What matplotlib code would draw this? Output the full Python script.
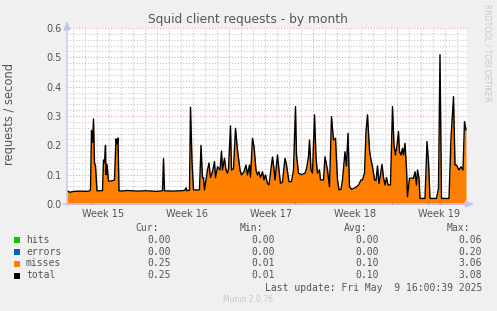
import matplotlib
matplotlib.use('Agg')
import matplotlib.pyplot as plt
from matplotlib.patches import Rectangle

# ---------------- data (hours since graph start, requests/second) ----------------
hours = [0, 6, 14, 26, 38, 46, 47, 49, 51, 53, 55, 57, 60, 71, 73, 75, 77, 78, 80, 83,
         86, 92, 95, 98, 100, 102, 104, 110, 120, 140, 160, 180, 191, 193, 195, 210,
         230, 236, 238, 240, 245, 247, 250, 253, 265, 268, 271, 273, 275, 281, 284,
         287, 291, 295, 297, 301, 306, 309, 311, 315, 318, 321, 323, 327, 329, 333,
         337, 341, 346, 349, 354, 358, 361, 365, 367, 371, 374, 378, 381, 384, 387,
         391, 394, 397, 401, 404, 407, 411, 414, 416, 421, 424, 427, 431, 436, 439,
         444, 449, 453, 457, 459, 463, 469, 476, 479, 483, 485, 488, 491, 495, 498,
         501, 505, 507, 513, 516, 521, 525, 529, 533, 537, 541, 544, 548, 551, 556,
         559, 562, 565, 569, 576, 583, 588, 591, 595, 598, 601, 605, 608, 611, 615,
         618, 621, 624, 627, 630, 633, 636, 639, 642, 647, 651, 654, 657, 660, 663,
         665, 668, 671, 673, 676, 679, 681, 685, 689, 693, 696, 699, 701, 704, 706,
         716, 720, 723, 726, 739, 743, 746, 749, 764, 768, 773, 776, 779, 784, 788,
         792, 795, 798]
total = [0.045, 0.040, 0.043, 0.044, 0.043, 0.045, 0.05, 0.25, 0.21, 0.29, 0.14, 0.13,
         0.045, 0.045, 0.15, 0.14, 0.2, 0.10, 0.135, 0.078, 0.078, 0.08, 0.082, 0.222,
         0.205, 0.225, 0.045, 0.044, 0.046, 0.044, 0.045, 0.043, 0.045, 0.155, 0.045,
         0.044, 0.045, 0.047, 0.055, 0.045, 0.047, 0.33, 0.145, 0.048, 0.048, 0.2,
         0.089, 0.09, 0.048, 0.116, 0.14, 0.09, 0.11, 0.145, 0.09, 0.127, 0.116, 0.18,
         0.116, 0.156, 0.116, 0.105, 0.12, 0.266, 0.116, 0.12, 0.258, 0.184, 0.116,
         0.099, 0.11, 0.133, 0.099, 0.133, 0.091, 0.224, 0.196, 0.116, 0.099, 0.11,
         0.09, 0.11, 0.082, 0.099, 0.07, 0.065, 0.105, 0.16, 0.12, 0.082, 0.167, 0.116,
         0.07, 0.075, 0.156, 0.133, 0.076, 0.076, 0.116, 0.332, 0.167, 0.105, 0.1,
         0.105, 0.12, 0.161, 0.218, 0.116, 0.105, 0.304, 0.16, 0.105, 0.116, 0.082,
         0.082, 0.161, 0.116, 0.059, 0.298, 0.218, 0.224, 0.082, 0.048, 0.05, 0.082,
         0.178, 0.13, 0.241, 0.059, 0.05, 0.055, 0.064, 0.082, 0.082, 0.105, 0.247,
         0.304, 0.184, 0.15, 0.127, 0.082, 0.08, 0.13, 0.07, 0.1, 0.135, 0.09, 0.065,
         0.09, 0.065, 0.065, 0.332, 0.2, 0.167, 0.2, 0.247, 0.178, 0.167, 0.19, 0.167,
         0.207, 0.122, 0.025, 0.088, 0.088, 0.088, 0.11, 0.065, 0.116, 0.088, 0.019,
         0.019, 0.213, 0.144, 0.019, 0.019, 0.053, 0.509, 0.019, 0.019, 0.224, 0.366,
         0.133, 0.133, 0.116, 0.127, 0.116, 0.281, 0.253]

err_hours = [0, 47, 49, 51, 454, 456, 458, 649, 651, 653, 659, 661, 663,
             720, 722, 724, 744, 746, 748, 798]
err_vals = [0, 0, 0.006, 0, 0, 0.01, 0, 0, 0.008, 0, 0, 0.006, 0,
            0, 0.01, 0, 0, 0.006, 0, 0]

week_labels = ['Week 15', 'Week 16', 'Week 17', 'Week 18', 'Week 19']
week_label_hours = [72, 240, 408, 576, 744]
week_start_hours = [156, 324, 492, 660]
y_ticks = [0.0, 0.1, 0.2, 0.3, 0.4, 0.5, 0.6]

legend_names = ['hits', 'errors', 'misses', 'total']
legend_colors = ['#00CC00', '#0066B3', '#FF8000', '#000000']
cur = ['0.00', '0.00', '0.25', '0.25']
mins = ['0.00', '0.00', '0.01', '0.01']
avgs = ['0.00', '0.00', '0.10', '0.10']
maxs = ['0.06', '0.20', '3.06', '3.08']

# ---------------- figure ----------------
W, H = 497, 311
BG = '#F0F0F0'
TXT = '#555555'
fig = plt.figure(figsize=(W / 100, H / 100), dpi=100, facecolor=BG)


def fx(px):
    return px / W


def fy(py):
    return 1 - py / H


L, R, T, B = 67, 467, 28, 204
ax = fig.add_axes([fx(L), fy(B), (R - L) / W, (B - T) / H])
ax.set_facecolor('white')
ax.set_xlim(0, 800)
ax.set_ylim(0, 0.6)
for s in ax.spines.values():
    s.set_visible(False)

# grid
MINOR = '#C8C8C8'
MAJOR = '#F0A0A0'
DOT = (0, (1, 1.6))
for h in range(12, 800, 24):
    if h in week_start_hours:
        continue
    ax.axvline(h, color=MINOR, lw=0.8, ls=DOT, zorder=1)
for i in range(1, 30):
    v = i * 0.02
    if i % 5 == 0:
        continue
    ax.axhline(v, color=MINOR, lw=0.8, ls=DOT, zorder=1)
for h in week_start_hours:
    ax.axvline(h, color=MAJOR, lw=0.8, ls=DOT, zorder=1.5)
for v in y_ticks[1:]:
    ax.axhline(v, color=MAJOR, lw=0.8, ls=DOT, zorder=1.5)

# data
ax.fill_between(hours, 0, total, color='#FF8000', lw=0, zorder=2)
ax.fill_between(err_hours, 0, err_vals, color='#0066B3', lw=0, zorder=2.5)
ax.plot(hours, total, color='#000000', lw=1.0, zorder=3)

# ticks
ax.set_yticks(y_ticks)
ax.set_yticklabels(['%.1f' % v for v in y_ticks])
ax.set_xticks(week_label_hours)
ax.set_xticklabels(week_labels)
ax.tick_params(axis='both', length=0, labelsize=7, colors=TXT)
ax.tick_params(axis='y', pad=4)
ax.tick_params(axis='x', pad=3.5)

# axis arrows
AX_COL = '#C4C4F2'
ax.annotate('', xy=(0, 1.04), xytext=(0, -0.01), xycoords='axes fraction',
            arrowprops=dict(arrowstyle='-|>,head_length=0.5,head_width=0.2',
                            color=AX_COL, lw=1, shrinkA=0, shrinkB=0),
            annotation_clip=False)
ax.annotate('', xy=(1.018, 0), xytext=(-0.01, 0), xycoords='axes fraction',
            arrowprops=dict(arrowstyle='-|>,head_length=0.5,head_width=0.2',
                            color=AX_COL, lw=1, shrinkA=0, shrinkB=0),
            annotation_clip=False)

# titles
fig.text(fx(248), fy(19), 'Squid client requests - by month', ha='center',
         va='center', fontsize=8.8, color=TXT, family='DejaVu Sans')
fig.text(fx(10), fy(114), 'requests / second', ha='center', va='center',
         rotation=90, fontsize=8.3, color=TXT, family='DejaVu Sans')
fig.text(fx(487), fy(4), 'RRDTOOL / TOBI OETIKER', ha='center', va='top',
         rotation=270, fontsize=5.5, color='#C8C8C8', family='DejaVu Sans')

# legend
MONO = 'DejaVu Sans Mono'
fs = 7
col_hdr = [159, 263, 367, 470]
col_val = [171, 275, 379, 482]
for x, t in zip(col_hdr, ['Cur:', 'Min:', 'Avg:', 'Max:']):
    fig.text(fx(x), fy(228), t, ha='right', va='center', fontsize=fs,
             color=TXT, family=MONO)
rows_y = [240, 252, 263.5, 275.5]
for i, name in enumerate(legend_names):
    y = rows_y[i]
    fig.add_artist(Rectangle((fx(14), fy(y + 3)), 6 / W, 6 / H,
                             transform=fig.transFigure, color=legend_colors[i],
                             lw=0))
    fig.text(fx(26), fy(y), name, ha='left', va='center', fontsize=fs,
             color=TXT, family=MONO)
    for x, vals in zip(col_val, [cur, mins, avgs, maxs]):
        fig.text(fx(x), fy(y), vals[i], ha='right', va='center', fontsize=fs,
                 color=TXT, family=MONO)
fig.text(fx(482), fy(288), 'Last update: Fri May  9 16:00:39 2025', ha='right',
         va='center', fontsize=fs, color=TXT, family=MONO)
fig.text(fx(248), fy(300), 'Munin 2.0.76', ha='center', va='center',
         fontsize=5.5, color='#C8C8C8', family='DejaVu Sans')

fig.savefig('out.png', dpi=100, facecolor=BG)
